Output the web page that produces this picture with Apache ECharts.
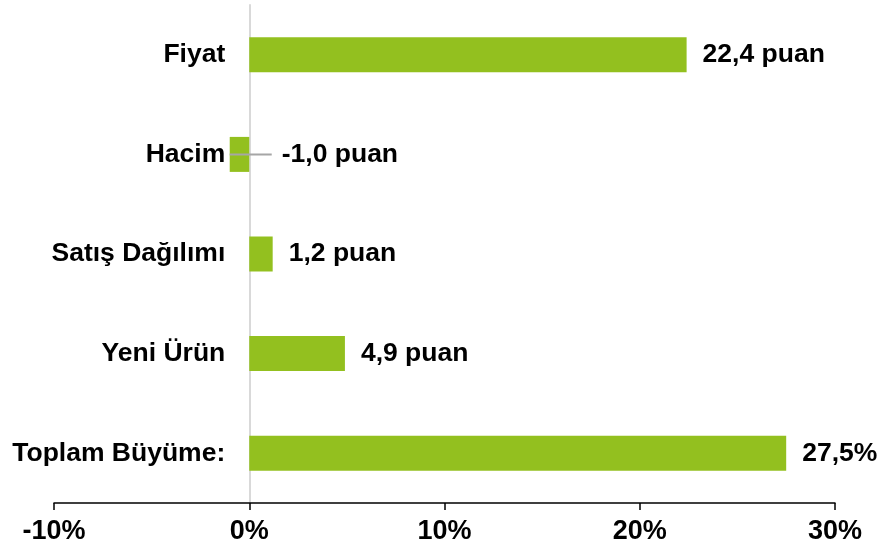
<!DOCTYPE html>
<html>
<head>
<meta charset="utf-8">
<script src="https://cdn.jsdelivr.net/npm/echarts@6/dist/echarts.min.js"></script>
<style>
  html, body { margin: 0; padding: 0; background: #fff; }
  #chart { width: 884px; height: 550px; }
</style>
</head>
<body>
<div id="chart"></div>
<script>
// data
const categories = ['Fiyat', 'Hacim', 'Satış Dağılımı', 'Yeni Ürün', 'Toplam Büyüme:'];
const values = [22.4, -1.0, 1.2, 4.9, 27.5];
const suffixes = [' puan', ' puan', ' puan', ' puan', '%'];
const xTicks = { min: -10, max: 30, step: 10 };

const FONT = "'Liberation Sans', Arial, sans-serif";
const FS = 26.5;
const GRID_LEFT = 54;
const GRID_RIGHT = 49;
const CHART_W = 884;

function fmt(v, i) {
  return v.toFixed(1).replace('.', ',') + suffixes[i];
}

// category labels sit next to the 0 line, not at the grid edge
const plotW = CHART_W - GRID_LEFT - GRID_RIGHT;
const zeroOffset = plotW * (0 - xTicks.min) / (xTicks.max - xTicks.min);

const barData = values.map((v, i) => {
  const item = { value: v };
  if (v < 0) {
    // negative bar: label pushed to the right of the 0 line with a leader line
    item.label = {
      position: 'insideLeft',
      distance: 0,
      formatter: '{line|}{txt|' + fmt(v, i) + '}',
      rich: {
        line: { width: 42, height: 2, backgroundColor: '#a6a6a6' },
        txt: { fontSize: FS, fontWeight: 'bold', fontFamily: FONT, color: '#000', padding: [0, 0, 0, 10] }
      }
    };
  }
  return item;
});

const chart = echarts.init(document.getElementById('chart'));

chart.setOption({
  animation: false,
  backgroundColor: '#fff',
  grid: {
    left: GRID_LEFT,
    right: GRID_RIGHT,
    top: 5,
    bottom: 47,
    outerBoundsMode: 'none',
    containLabel: false
  },
  xAxis: {
    type: 'value',
    min: xTicks.min,
    max: xTicks.max,
    interval: xTicks.step,
    axisLine: {
      show: true,
      onZero: false,
      lineStyle: { color: '#000', width: 1.5 }
    },
    axisTick: {
      show: true,
      inside: false,
      length: 7,
      lineStyle: { color: '#000', width: 1.5 }
    },
    axisLabel: {
      formatter: '{value}%',
      color: '#000',
      fontSize: 27,
      fontWeight: 'bold',
      fontFamily: FONT,
      margin: 15
    },
    splitLine: { show: false }
  },
  yAxis: {
    type: 'category',
    inverse: true,
    data: categories,
    axisLine: {
      show: true,
      onZero: true,
      lineStyle: { color: '#d9d9d9', width: 2 }
    },
    axisTick: { show: false },
    axisLabel: {
      color: '#000',
      fontSize: FS,
      fontWeight: 'bold',
      fontFamily: FONT,
      margin: 24 - zeroOffset
    }
  },
  series: [
    {
      type: 'bar',
      data: barData,
      barWidth: 35,
      itemStyle: { color: '#93c01f' },
      label: {
        show: true,
        position: 'right',
        distance: 16,
        color: '#000',
        fontSize: FS,
        fontWeight: 'bold',
        fontFamily: FONT,
        formatter: p => fmt(p.value, p.dataIndex)
      }
    }
  ]
});
</script>
</body>
</html>
